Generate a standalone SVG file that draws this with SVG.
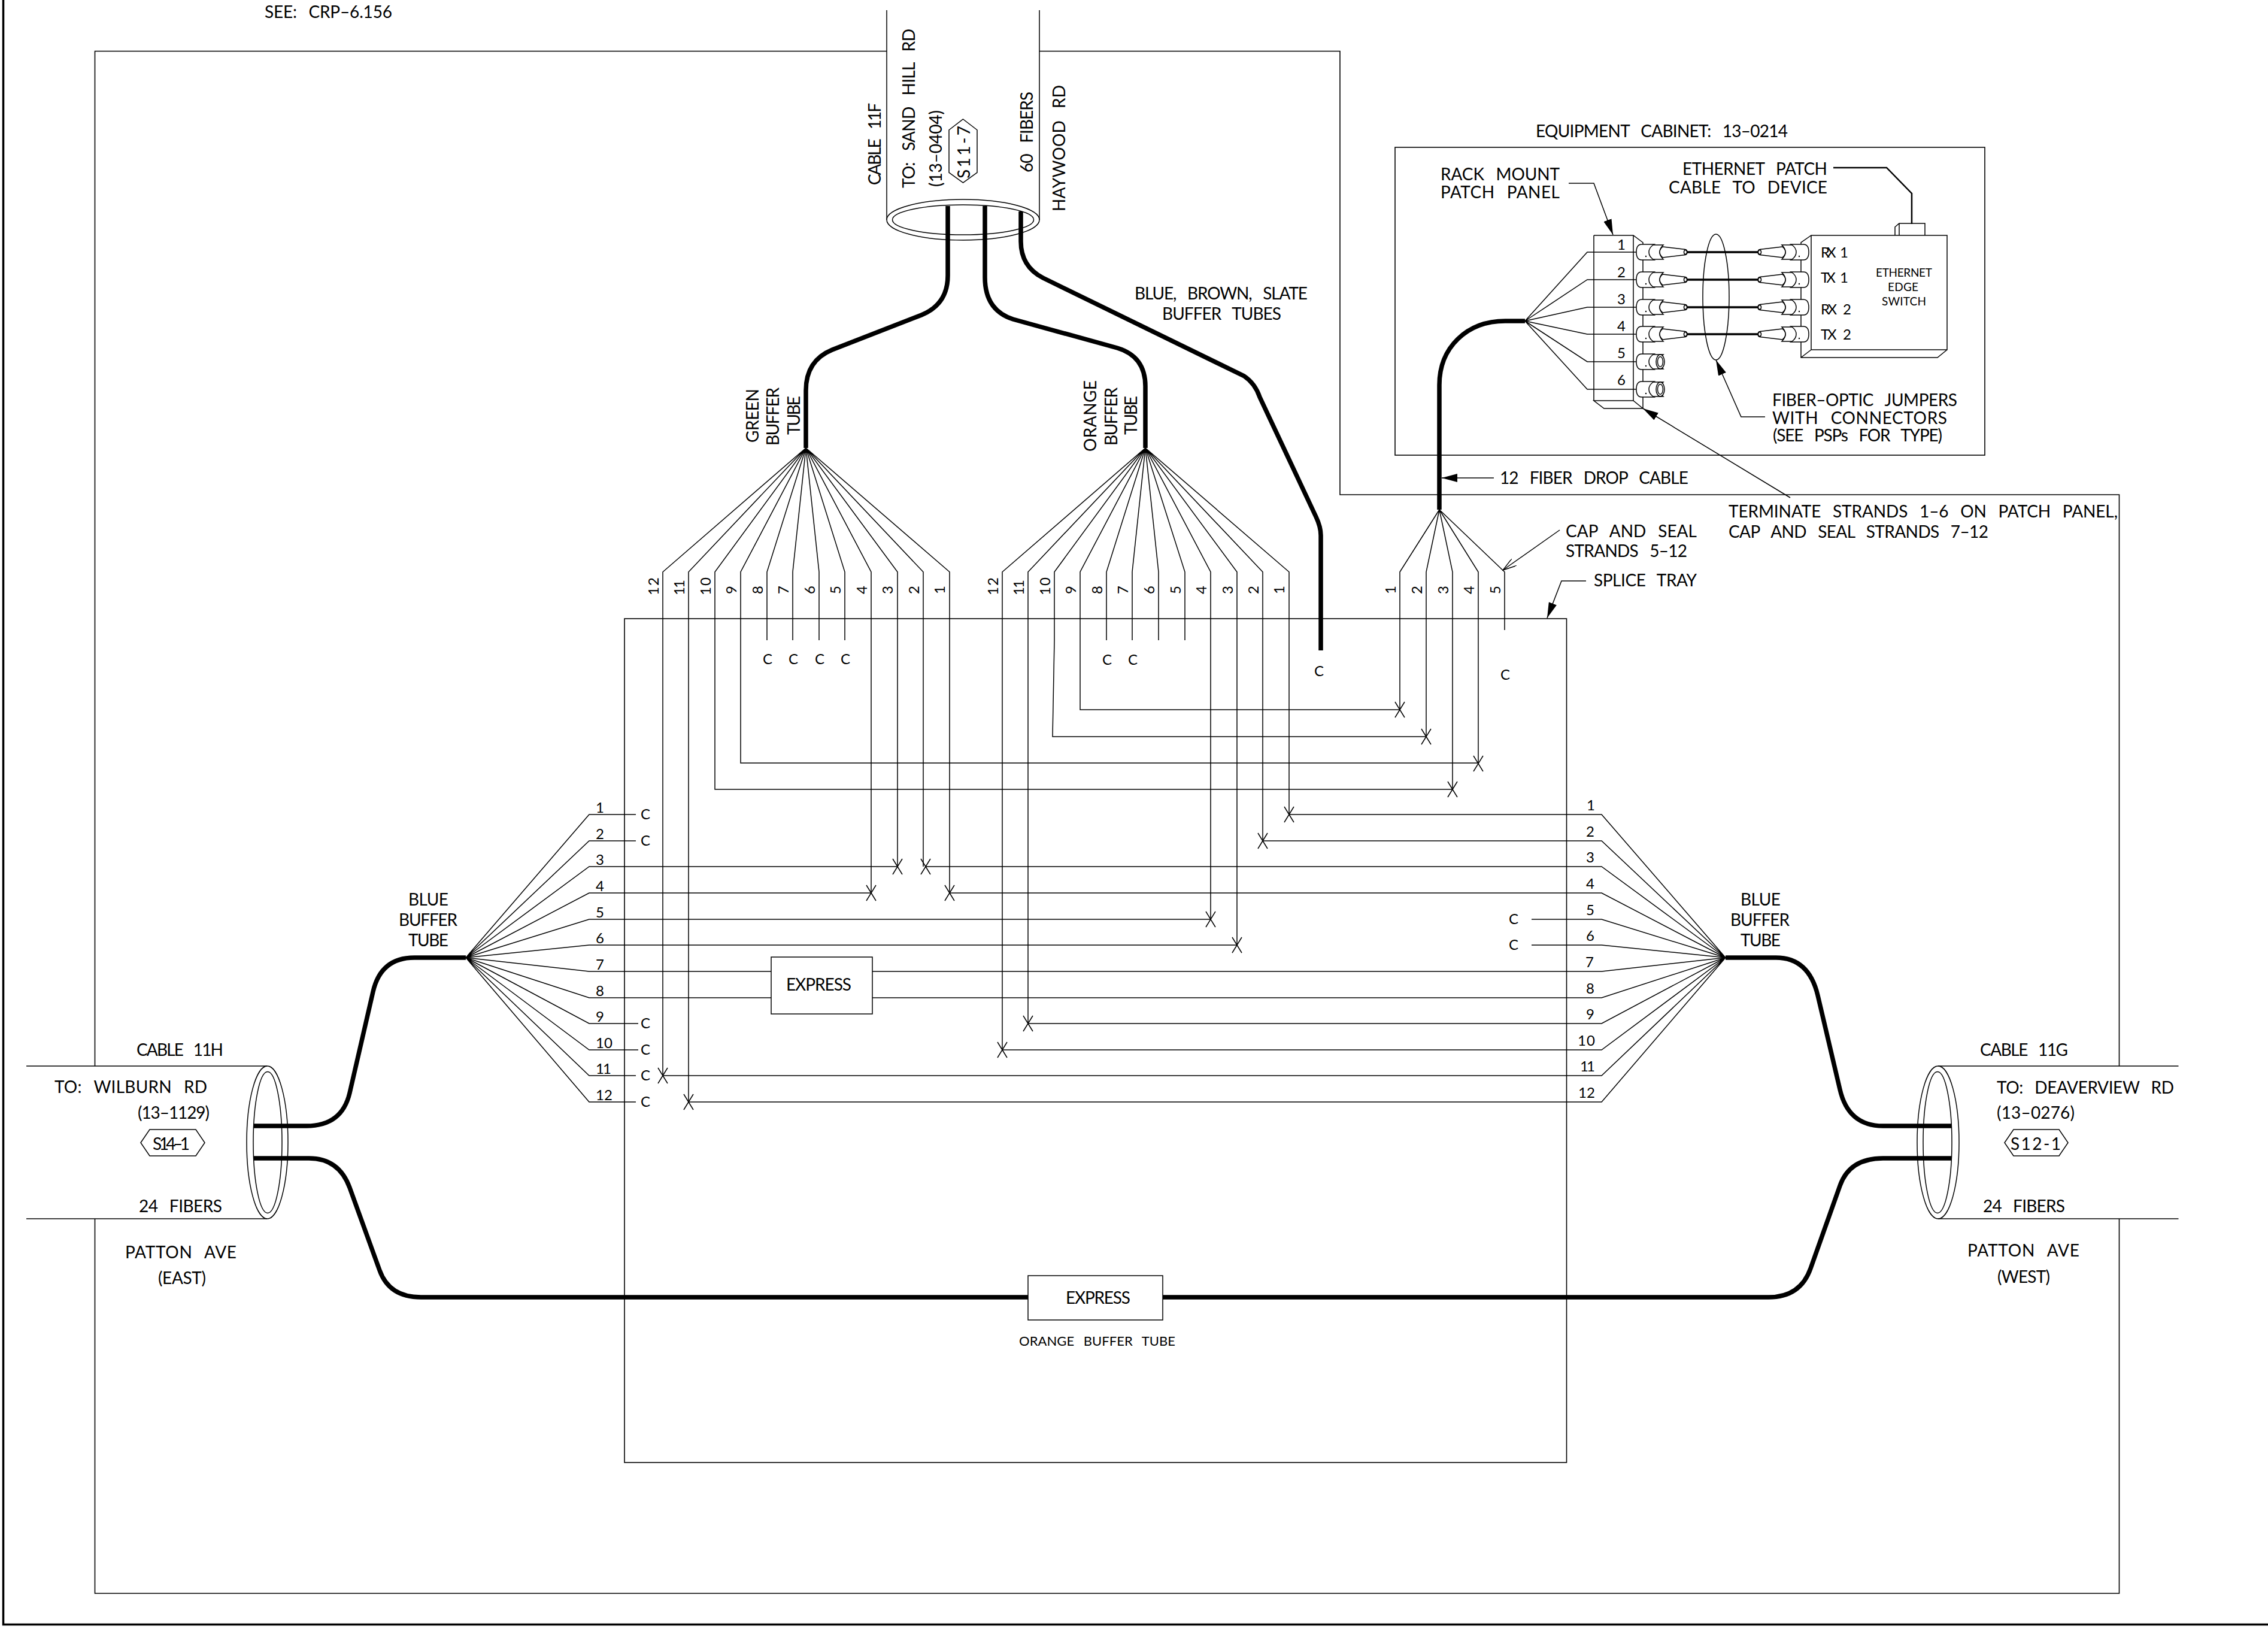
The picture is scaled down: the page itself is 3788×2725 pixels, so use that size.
<svg xmlns="http://www.w3.org/2000/svg" xmlns:xlink="http://www.w3.org/1999/xlink" width="3788" height="2725" viewBox="0 0 3788 2725">
<style>
text{font-family:"Lato","Liberation Sans",sans-serif;fill:#000;word-spacing:.45em}
.a{font-size:28px}
.n{font-size:24px}
.s{font-size:19px}
.m{text-anchor:middle}
.e{text-anchor:end}
.t{fill:none;stroke:#000;stroke-width:1.5}
.w{fill:#fff;stroke:#000;stroke-width:1.5}
.f{fill:none;stroke:#000;stroke-width:1.6}
.k{fill:none;stroke:#000;stroke-width:7.5}
.j{fill:none;stroke:#000;stroke-width:3.5}
.b{fill:none;stroke:#000;stroke-width:3.5}
.l{fill:none;stroke:#000;stroke-width:2.5}
</style>
<defs>
<marker id="ah" viewBox="0 0 26 14" refX="26" refY="7" markerWidth="26" markerHeight="14" orient="auto" markerUnits="userSpaceOnUse"><path d="M0,0L26,7L0,14Z" fill="#000"/></marker>
<marker id="op" viewBox="0 0 24 14" refX="23" refY="7" markerWidth="24" markerHeight="14" orient="auto" markerUnits="userSpaceOnUse"><path d="M0,0L23,7L0,14" fill="none" stroke="#000" stroke-width="1.4"/></marker>
<path id="x" d="M-8,-13L8,13M8,-13L-8,13" class="t"/>
<g id="body">
<path class="w" d="M0,0C0,-8 3,-13 9,-13H30Q23,-8 23,0Q23,8 30,13H9C3,13 0,8 0,0Z"/>
<path class="w" d="M28,-12H45Q39,-6 39,0Q39,6 45,12H28Q21,7 21,0Q21,-7 28,-12Z"/>
<circle cx="16" cy="7" r="1.2" fill="#000"/>
</g>
<g id="jack">
<use href="#body" xlink:href="#body"/>
<path class="w" d="M44,-9L82,-4.5A3,4.5 0 0 1 82,4.5L44,9Q39,5 39,0Q39,-5 44,-9Z"/>
<ellipse class="t" cx="82" cy="0" rx="2.5" ry="3.5"/>
</g>
<g id="open">
<use href="#body" xlink:href="#body"/>
<ellipse class="w" cx="40" cy="0" rx="7" ry="12"/>
<ellipse class="t" cx="40" cy="0" rx="4.5" ry="8.5"/>
</g>
</defs>
<rect width="3788" height="2725" fill="#fff"/>
<g id="sheet-border"><path class="b" d="M5.5,0V2712.5H3788"/></g>
<g id="frame"><path class="f" d="M1481,85.5H158.5V1780M158.5,2035V2660.5H3539.5V2035M3539.5,1780V826H2238V85.5H1736"/></g>
<text class="a" x="442" y="30" textLength="213">SEE: CRP–6.156</text>
<g id="splice-tray"><rect class="f" x="1043" y="1033" width="1573.5" height="1409"/>
<text class="a" x="2662" y="979" textLength="172">SPLICE TRAY</text></g>

<g id="connectors">
<g id="green-fan">
<path class="t" d="M1346,748L1586,955V1491M1346,748L1542,955V1447M1346,748L1499,955V1447M1346,748L1455,955V1491M1346,748L1411,955V1069M1346,748L1368,955V1069M1346,748L1324,955V1069M1346,748L1281,955V1069M1346,748L1237,955V1274H2469M1346,748L1194,955V1318H2426M1346,748L1150,955V1840M1346,748L1107,955V1796"/>
</g>
<g id="orange-fan">
<path class="t" d="M1913,748L2153,955V1360M1913,748L2109,955V1404M1913,748L2066,955V1578M1913,748L2022,955V1535M1913,748L1979,955V1069M1913,748L1935,955V1069M1913,748L1891,955V1069M1913,748L1848,955V1069M1913,748L1804,955V1185H2338M1913,748L1761,955V1069L1758,1230H2382M1913,748L1717,955V1709M1913,748L1674,955V1753"/>
</g>
<g id="drop-fan">
<path class="t" d="M2404,851L2338,955V1185M2404,851L2382,955V1230M2404,851L2426,955V1318M2404,851L2469,955V1275M2404,851L2513,955V1052"/>
</g>
<g id="blue-east-fan">
<path class="t" d="M778,1599L984,1360H1062M778,1599L984,1404H1062M778,1599L984,1447H1499M778,1599L984,1491H1455M778,1599L984,1535H2022M778,1599L984,1578H2066M778,1599L984,1622H1288M778,1599L984,1666H1288M778,1599L984,1709H1066M778,1599L984,1753H1066M778,1599L984,1796H1062M778,1599L984,1840H1062"/>
</g>
<g id="blue-west-fan">
<path class="t" d="M2882,1599L2675,1360H2153M2882,1599L2675,1404H2109M2882,1599L2675,1447H1546M2882,1599L2675,1491H1586M2882,1599L2675,1535H2558M2882,1599L2675,1578H2558M2882,1599L2675,1622H1457M2882,1599L2675,1666H1457M2882,1599L2675,1709H1717M2882,1599L2675,1753H1674M2882,1599L2675,1796H1107M2882,1599L2675,1840H1150"/>
</g>
<g id="splices">
<use href="#x" xlink:href="#x" x="1499" y="1447"/><use href="#x" xlink:href="#x" x="1546" y="1447"/>
<use href="#x" xlink:href="#x" x="1455" y="1491"/><use href="#x" xlink:href="#x" x="1586" y="1491"/>
<use href="#x" xlink:href="#x" x="2022" y="1535"/><use href="#x" xlink:href="#x" x="2066" y="1578"/>
<use href="#x" xlink:href="#x" x="1107" y="1796"/><use href="#x" xlink:href="#x" x="1150" y="1840"/>
<use href="#x" xlink:href="#x" x="1717" y="1709"/><use href="#x" xlink:href="#x" x="1674" y="1753"/>
<use href="#x" xlink:href="#x" x="2153" y="1360"/><use href="#x" xlink:href="#x" x="2109" y="1404"/>
<use href="#x" xlink:href="#x" x="2338" y="1185"/><use href="#x" xlink:href="#x" x="2382" y="1230"/>
<use href="#x" xlink:href="#x" x="2469" y="1275"/><use href="#x" xlink:href="#x" x="2426" y="1318"/>
</g>
<g id="tubes">
<path class="k" d="M1583,344V460Q1583,508 1539,526L1390,584Q1346,602 1346,652V748"/>
<path class="k" d="M1645,344V463Q1645,518 1692,533L1866,581Q1913,595 1913,645V748"/>
<path class="k" d="M1705,353V403Q1705,445 1742,464L2078,628Q2096,640 2104,663L2198,863Q2206,880 2206,894V1086"/>
<path class="k" d="M423,1880H512Q571,1880 584,1825L623,1656Q636,1599 692,1599H778"/>
<path class="k" d="M423,1934H516Q566,1934 584,1983L634,2121Q650,2166 703,2166H1717M1942,2166H2954Q3007,2166 3024,2118L3073,1980Q3089,1934 3145,1934H3260"/>
<path class="k" d="M2882,1599H2966Q3021,1599 3036,1662L3073,1819Q3087,1880 3145,1880H3260"/>
<path class="k" d="M2404,851V643C2404,580 2450,536 2514,536H2547"/>
</g>
<g id="leaders">
<path class="t" marker-end="url(#ah)" d="M2620,306H2662L2694,392"/>
<path class="t" marker-end="url(#ah)" d="M2948,696H2908L2866,601"/>
<path class="t" marker-end="url(#ah)" d="M2990,831L2744,682"/>
<path class="t" marker-end="url(#ah)" d="M2495,798H2408"/>
<path class="t" marker-end="url(#op)" d="M2605,885L2510,952"/>
<path class="t" marker-end="url(#ah)" d="M2649,970H2608L2584,1032"/>
<path class="l" d="M3062,280H3151L3193,323V374"/>
</g>
</g>

<g id="cable-11f">
<path class="t" d="M1481,17V367M1736,17V367"/>
<ellipse class="t" cx="1608.5" cy="367" rx="127.5" ry="34"/>
<ellipse class="t" cx="1608.5" cy="367" rx="118" ry="25"/>
<text class="a" transform="translate(1471,309) rotate(-90)" textLength="137">CABLE 11F</text>
<text class="a" transform="translate(1528,314) rotate(-90)" textLength="266">TO: SAND HILL RD</text>
<text class="a" transform="translate(1573,312) rotate(-90)" textLength="128">(13–0404)</text>
<polygon class="t" points="1608.5,199 1632,217 1632,288 1608.5,305 1585,288 1585,217"/>
<text class="a" transform="translate(1620,298) rotate(-90)" textLength="88">S11-7</text>
<text class="a" transform="translate(1725,288) rotate(-90)" textLength="135">60 FIBERS</text>
<text class="a" transform="translate(1779,353) rotate(-90)" textLength="211">HAYWOOD RD</text>
<text class="a" x="1895" y="500" textLength="289">BLUE, BROWN, SLATE</text>
<text class="a" x="1941" y="534" textLength="199">BUFFER TUBES</text>
</g>

<g id="green-buffer-tube">
<text class="a" transform="translate(1267,739) rotate(-90)" textLength="90">GREEN</text>
<text class="a" transform="translate(1301,744) rotate(-90)" textLength="97">BUFFER</text>
<text class="a" transform="translate(1336,726) rotate(-90)" textLength="65">TUBE</text>
</g>
<g id="orange-buffer-tube">
<text class="a" transform="translate(1831,754) rotate(-90)" textLength="119">ORANGE</text>
<text class="a" transform="translate(1866,744) rotate(-90)" textLength="97">BUFFER</text>
<text class="a" transform="translate(1899,726) rotate(-90)" textLength="65">TUBE</text>
</g>

<g id="green-numbers" class="n">
<text class="n" transform="translate(1578,992) rotate(-90)">1</text>
<text class="n" transform="translate(1535,992) rotate(-90)">2</text>
<text class="n" transform="translate(1491,992) rotate(-90)">3</text>
<text class="n" transform="translate(1448,992) rotate(-90)">4</text>
<text class="n" transform="translate(1404,992) rotate(-90)">5</text>
<text class="n" transform="translate(1361,992) rotate(-90)">6</text>
<text class="n" transform="translate(1317,992) rotate(-90)">7</text>
<text class="n" transform="translate(1274,992) rotate(-90)">8</text>
<text class="n" transform="translate(1230,992) rotate(-90)">9</text>
<text class="n" transform="translate(1187,994) rotate(-90)" textLength="30">10</text>
<text class="n" transform="translate(1143,994) rotate(-90)" textLength="26">11</text>
<text class="n" transform="translate(1100,994) rotate(-90)" textLength="30">12</text>
</g>
<g id="orange-numbers">
<text class="n" transform="translate(2145,992) rotate(-90)">1</text>
<text class="n" transform="translate(2102,992) rotate(-90)">2</text>
<text class="n" transform="translate(2059,992) rotate(-90)">3</text>
<text class="n" transform="translate(2015,992) rotate(-90)">4</text>
<text class="n" transform="translate(1972,992) rotate(-90)">5</text>
<text class="n" transform="translate(1928,992) rotate(-90)">6</text>
<text class="n" transform="translate(1884,992) rotate(-90)">7</text>
<text class="n" transform="translate(1841,992) rotate(-90)">8</text>
<text class="n" transform="translate(1797,992) rotate(-90)">9</text>
<text class="n" transform="translate(1754,994) rotate(-90)" textLength="30">10</text>
<text class="n" transform="translate(1710,994) rotate(-90)" textLength="26">11</text>
<text class="n" transform="translate(1667,994) rotate(-90)" textLength="30">12</text>
</g>
<g id="drop-numbers">
<text class="n" transform="translate(2331,992) rotate(-90)">1</text>
<text class="n" transform="translate(2375,992) rotate(-90)">2</text>
<text class="n" transform="translate(2419,992) rotate(-90)">3</text>
<text class="n" transform="translate(2462,992) rotate(-90)">4</text>
<text class="n" transform="translate(2506,992) rotate(-90)">5</text>
</g>

<g id="east-numbers">
<text class="n m" x="1002" y="1357">1</text><text class="n m" x="1002" y="1401">2</text><text class="n m" x="1002" y="1444">3</text><text class="n m" x="1002" y="1488">4</text><text class="n m" x="1002" y="1532">5</text><text class="n m" x="1002" y="1575">6</text><text class="n m" x="1002" y="1619">7</text><text class="n m" x="1002" y="1663">8</text><text class="n m" x="1002" y="1706">9</text>
<text class="n" x="995" y="1750" textLength="28">10</text><text class="n" x="995" y="1793" textLength="26">11</text><text class="n" x="995" y="1837" textLength="28">12</text>
</g>
<g id="west-numbers">
<text class="n m" x="2657" y="1353">1</text><text class="n m" x="2656" y="1397">2</text><text class="n m" x="2656" y="1440">3</text><text class="n m" x="2656" y="1484">4</text><text class="n m" x="2656" y="1528">5</text><text class="n m" x="2656" y="1571">6</text><text class="n m" x="2655" y="1615">7</text><text class="n m" x="2656" y="1659">8</text><text class="n m" x="2656" y="1702">9</text>
<text class="n" x="2635" y="1746" textLength="29">10</text><text class="n" x="2639" y="1789" textLength="25">11</text><text class="n" x="2636" y="1833" textLength="28">12</text>
</g>
<g id="cap-marks">
<text class="n m" x="1078" y="1368">C</text><text class="n m" x="1078" y="1412">C</text><text class="n m" x="1078" y="1717">C</text><text class="n m" x="1078" y="1761">C</text><text class="n m" x="1078" y="1804">C</text><text class="n m" x="1078" y="1848">C</text>
<text class="n m" x="1282" y="1109">C</text><text class="n m" x="1325" y="1109">C</text><text class="n m" x="1369" y="1109">C</text><text class="n m" x="1412" y="1109">C</text>
<text class="n m" x="1849" y="1110">C</text><text class="n m" x="1892" y="1110">C</text>
<text class="n m" x="2203" y="1129">C</text><text class="n m" x="2514" y="1135">C</text>
<text class="n m" x="2528" y="1543">C</text><text class="n m" x="2528" y="1586">C</text>
</g>

<g id="express-strands"><rect class="t" x="1288" y="1598" width="169" height="95"/>
<text class="a" x="1313" y="1654" textLength="109">EXPRESS</text></g>
<g id="express-tube"><rect class="t" x="1717" y="2130" width="225" height="74"/>
<text class="a" x="1780" y="2177" textLength="108">EXPRESS</text>
<text style="font-size:22px" x="1702" y="2247" textLength="261">ORANGE BUFFER TUBE</text></g>

<g id="blue-tube-east">
<text class="a" x="682" y="1512" textLength="67">BLUE</text>
<text class="a" x="666" y="1546" textLength="98">BUFFER</text>
<text class="a" x="682" y="1580" textLength="67">TUBE</text>
</g>
<g id="blue-tube-west">
<text class="a" x="2907" y="1512" textLength="67">BLUE</text>
<text class="a" x="2890" y="1546" textLength="99">BUFFER</text>
<text class="a" x="2907" y="1580" textLength="67">TUBE</text>
</g>

<g id="cable-11h">
<path class="t" d="M44,1780H446M44,2035H446"/>
<ellipse class="t" cx="446.5" cy="1907.5" rx="34.5" ry="127.5"/>
<ellipse class="t" cx="447" cy="1907.5" rx="24" ry="118"/>
<text class="a" x="228" y="1763" textLength="145">CABLE 11H</text>
<text class="a" x="91" y="1825" textLength="255">TO: WILBURN RD</text>
<text class="a" x="230" y="1868" textLength="120">(13–1129)</text>
<polygon class="t" points="235,1908 250,1886 327,1886 342,1908 327,1930 250,1930"/>
<text class="a" x="255" y="1920" textLength="62">S14–1</text>
<text class="a" x="232" y="2024" textLength="139">24 FIBERS</text>
<text class="a" x="209" y="2101" textLength="186">PATTON AVE</text>
<text class="a" x="264" y="2144" textLength="80">(EAST)</text>
</g>

<g id="cable-11g">
<path class="t" d="M3237,1780H3638.5M3237,2035H3638.5"/>
<ellipse class="t" cx="3237" cy="1907.5" rx="35" ry="127.5"/>
<ellipse class="t" cx="3236" cy="1907.5" rx="24" ry="118"/>
<text class="a" x="3307" y="1763" textLength="147">CABLE 11G</text>
<text class="a" x="3335" y="1826" textLength="296">TO: DEAVERVIEW RD</text>
<text class="a" x="3335" y="1868" textLength="130">(13–0276)</text>
<polygon class="t" points="3348,1908 3363,1886 3439,1886 3454,1908 3439,1930 3363,1930"/>
<text class="a" x="3358" y="1920" textLength="84">S12-1</text>
<text class="a" x="3312" y="2024" textLength="137">24 FIBERS</text>
<text class="a" x="3286" y="2098" textLength="187">PATTON AVE</text>
<text class="a" x="3336" y="2142" textLength="88">(WEST)</text>
</g>

<g id="equipment-cabinet">
<rect class="f" x="2330" y="246" width="985" height="514"/>
<text class="a" x="2565" y="229" textLength="421">EQUIPMENT CABINET: 13–0214</text>
<text class="a" x="2406" y="301" textLength="199">RACK MOUNT</text>
<text class="a" x="2406" y="331" textLength="199">PATCH PANEL</text>
<text class="a" x="2810" y="292" textLength="242">ETHERNET PATCH</text>
<text class="a" x="2787" y="323" textLength="265">CABLE TO DEVICE</text>
<text class="a" x="2960" y="678" textLength="309">FIBER–OPTIC JUMPERS</text>
<text class="a" x="2960" y="708" textLength="292">WITH CONNECTORS</text>
<text class="a" x="2961" y="737" textLength="283">(SEE PSPs FOR TYPE)</text>
</g>
<text class="a" x="2505" y="808" textLength="315">12 FIBER DROP CABLE</text>
<text class="a" x="2887" y="864" textLength="650">TERMINATE STRANDS 1–6 ON PATCH PANEL,</text>
<text class="a" x="2887" y="898" textLength="434">CAP AND SEAL STRANDS 7–12</text>
<text class="a" x="2615" y="897" textLength="219">CAP AND SEAL</text>
<text class="a" x="2615" y="930" textLength="203">STRANDS 5–12</text>

<g id="patch-panel">
<path class="t" d="M2662,393H2728L2744,405V682H2679L2662,669H2728L2744,682M2662,393V669M2728,393V669"/>
<path class="t" d="M2547,536L2651,421H2733M2547,536L2651,467H2733M2547,536L2651,513H2733M2547,536L2651,558H2733M2547,536L2651,604H2733M2547,536L2651,650H2733"/>
<text class="n e" x="2715" y="417">1</text><text class="n e" x="2715" y="463">2</text><text class="n e" x="2715" y="508">3</text><text class="n e" x="2715" y="553">4</text><text class="n e" x="2715" y="598">5</text><text class="n e" x="2715" y="643">6</text>
<use href="#jack" xlink:href="#jack" transform="translate(2733,421)"/>
<use href="#jack" xlink:href="#jack" transform="translate(2733,467)"/>
<use href="#jack" xlink:href="#jack" transform="translate(2733,513)"/>
<use href="#jack" xlink:href="#jack" transform="translate(2733,558)"/>
<use href="#open" xlink:href="#open" transform="translate(2733,604)"/>
<use href="#open" xlink:href="#open" transform="translate(2733,650)"/>
</g>

<g id="jumpers">
<path class="j" d="M2818,421H2936M2818,467H2936M2818,513H2936M2818,558H2936"/>
<ellipse class="t" cx="2866" cy="496" rx="22" ry="105"/>
</g>

<g id="edge-switch">
<path class="t" d="M3025,393H3252V584H3025ZM3025,393L3008,405V597H3236L3252,584M3008,597L3025,584"/>
<path class="t" d="M3165,393V379L3172,373H3215V393M3172,373V393"/>
<use href="#jack" xlink:href="#jack" transform="translate(3021,421) scale(-1,1)"/>
<use href="#jack" xlink:href="#jack" transform="translate(3021,467) scale(-1,1)"/>
<use href="#jack" xlink:href="#jack" transform="translate(3021,513) scale(-1,1)"/>
<use href="#jack" xlink:href="#jack" transform="translate(3021,558) scale(-1,1)"/>
<text class="n" x="3041" y="430" textLength="46">RX 1</text>
<text class="n" x="3041" y="472" textLength="46">TX 1</text>
<text class="n" x="3041" y="525" textLength="51">RX 2</text>
<text class="n" x="3041" y="567" textLength="51">TX 2</text>
<text class="s" x="3133" y="462" textLength="94">ETHERNET</text>
<text class="s" x="3153" y="486" textLength="51">EDGE</text>
<text class="s" x="3143" y="510" textLength="74">SWITCH</text>
</g>
</svg>
